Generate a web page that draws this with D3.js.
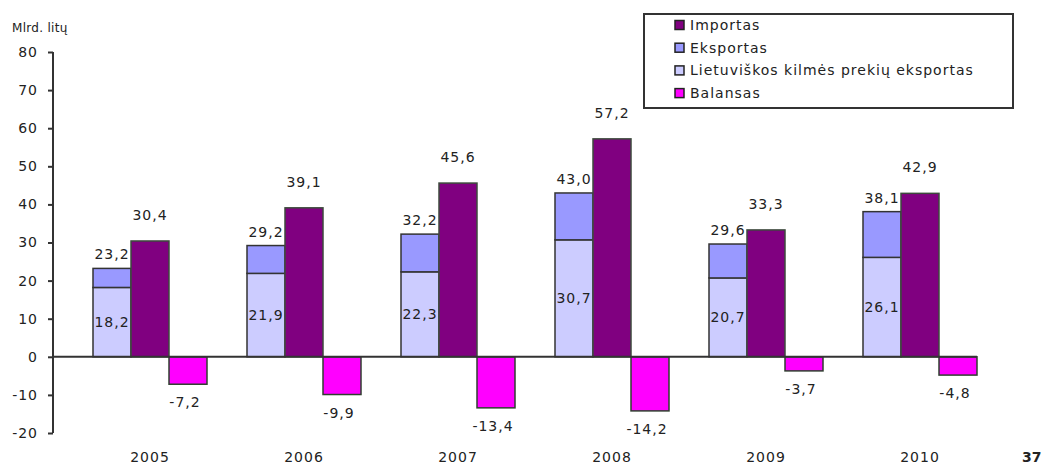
<!DOCTYPE html>
<html>
<head>
<meta charset="utf-8">
<script src="https://cdn.jsdelivr.net/npm/d3@7"></script>
<style>
  html, body { margin: 0; padding: 0; background: #ffffff; }
  svg { display: block; }
  text { font-family: "DejaVu Sans", Verdana, sans-serif; fill: #222; letter-spacing: 1px; }
</style>
</head>
<body>
<svg id="chart" width="1044" height="467"></svg>
<script>
// ---- data ----
const years = ["2005", "2006", "2007", "2008", "2009", "2010"];
const lietuviskos = [18.2, 21.9, 22.3, 30.7, 20.7, 26.1];
const eksportas = [23.2, 29.2, 32.2, 43.0, 29.6, 38.1];
const importas = [30.4, 39.1, 45.6, 57.2, 33.3, 42.9];
const balansas = [-7.2, -9.9, -13.4, -14.2, -3.7, -4.8];
const yTicks = [-20, -10, 0, 10, 20, 30, 40, 50, 60, 70, 80];
const legendLabels = ["Importas", "Eksportas", "Lietuviškos kilmės prekių eksportas", "Balansas"];
const legendColors = ["#800080", "#9999ff", "#ccccff", "#ff00ff"];
const fmt = v => v.toFixed(1).replace(".", ",");

const svg = d3.select("#chart");

const y = d3.scaleLinear().domain([-20, 80]).range([433, 52]);
const x = d3.scaleBand().domain(years).range([73, 997]);
const sub = d3.scaleBand().domain(["eks", "imp", "bal"]).range([20, 134]);

const stroke = "#333";

// y-axis
const yAxis = svg.append("g")
  .attr("transform", "translate(53,0)")
  .call(d3.axisLeft(y).tickValues(yTicks).tickSize(5).tickSizeOuter(0).tickPadding(10)
        .tickFormat(d => d));
yAxis.select(".domain").attr("stroke", stroke).attr("stroke-width", 2).attr("d", `M0,${y(80)}V${y(-20)}`);
yAxis.selectAll(".tick line").attr("stroke", stroke).attr("stroke-width", 2);
yAxis.selectAll(".tick text").style("font-size", "14px").attr("fill", "#222");

// unit label
svg.append("text").attr("x", 12).attr("y", 32).style("font-size", "12px").style("letter-spacing", "0.3px").text("Mlrd. litų");

const groups = svg.append("g");

years.forEach((yr, i) => {
  const gx = x(yr);
  // lietuviskos (light)
  groups.append("rect")
    .attr("x", gx + sub("eks")).attr("width", sub.bandwidth())
    .attr("y", y(lietuviskos[i])).attr("height", y(0) - y(lietuviskos[i]))
    .attr("fill", "#ccccff").attr("stroke", stroke).attr("stroke-width", 1.5);
  // eksportas remainder
  groups.append("rect")
    .attr("x", gx + sub("eks")).attr("width", sub.bandwidth())
    .attr("y", y(eksportas[i])).attr("height", y(lietuviskos[i]) - y(eksportas[i]))
    .attr("fill", "#9999ff").attr("stroke", stroke).attr("stroke-width", 1.5);
  // importas
  groups.append("rect")
    .attr("x", gx + sub("imp")).attr("width", sub.bandwidth())
    .attr("y", y(importas[i])).attr("height", y(0) - y(importas[i]))
    .attr("fill", "#800080").attr("stroke", "#3c4a3c").attr("stroke-width", 1.5);
  // balansas
  groups.append("rect")
    .attr("x", gx + sub("bal")).attr("width", sub.bandwidth())
    .attr("y", y(0)).attr("height", y(balansas[i]) - y(0))
    .attr("fill", "#ff00ff").attr("stroke", "#2f3f2f").attr("stroke-width", 1.5);

  const cx = k => gx + sub(k) + sub.bandwidth() / 2;
  groups.append("text").attr("x", cx("eks")).attr("y", y(lietuviskos[i] / 2))
    .attr("dy", "0.36em").attr("text-anchor", "middle").style("font-size", "14px").text(fmt(lietuviskos[i]));
  groups.append("text").attr("x", cx("eks")).attr("y", y(eksportas[i]) - 14)
    .attr("dy", "0.36em").attr("text-anchor", "middle").style("font-size", "14px").text(fmt(eksportas[i]));
  groups.append("text").attr("x", cx("imp")).attr("y", y(importas[i]) - 26)
    .attr("dy", "0.36em").attr("text-anchor", "middle").style("font-size", "14px").text(fmt(importas[i]));
  groups.append("text").attr("x", cx("bal") - 3).attr("y", y(balansas[i]) + 18)
    .attr("dy", "0.36em").attr("text-anchor", "middle").style("font-size", "14px").text(fmt(balansas[i]));
});

// zero line
const lastRight = x(years[years.length - 1]) + sub("bal") + sub.bandwidth();
svg.append("line").attr("x1", 53).attr("x2", lastRight).attr("y1", y(0)).attr("y2", y(0))
  .attr("stroke", stroke).attr("stroke-width", 2);

// x axis labels
const xAxis = svg.append("g").attr("transform", `translate(0,${y(-20)})`)
  .call(d3.axisBottom(x).tickSize(0).tickPadding(19));
xAxis.select(".domain").remove();
xAxis.selectAll(".tick text").style("font-size", "14px").attr("fill", "#222");

// legend
const lg = svg.append("g");
lg.append("rect").attr("x", 644).attr("y", 14).attr("width", 369).attr("height", 94)
  .attr("fill", "#ffffff").attr("stroke", "#333").attr("stroke-width", 2);
legendLabels.forEach((lab, i) => {
  const cy = 25 + i * 22.7;
  lg.append("rect").attr("x", 675).attr("y", cy - 4.5).attr("width", 9).attr("height", 9)
    .attr("fill", legendColors[i]).attr("stroke", "#222").attr("stroke-width", 1.5);
  lg.append("text").attr("x", 690).attr("y", cy).attr("dy", "0.36em").style("font-size", "14px").text(lab);
});

// page number
svg.append("text").attr("x", 1022).attr("y", 462).style("font-size", "14px").style("font-weight", "bold")
  .style("letter-spacing", "0px").attr("fill", "#000").text("37");
</script>
</body>
</html>
